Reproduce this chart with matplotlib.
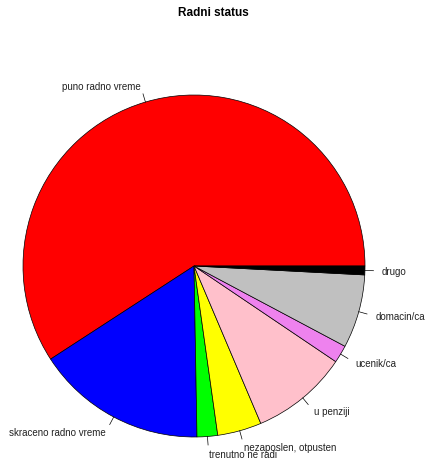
import numpy as np
import matplotlib.pyplot as plt

# radni status - pie like R's pie()
labels = ['puno radno vreme', 'skraceno radno vreme', 'trenutno ne radi',
          'nezaposlen, otpusten', 'u penziji', 'ucenik/ca', 'domacin/ca', 'drugo']
counts = [213, 58, 7, 15, 33, 6, 25, 3]
colors = ['red', 'blue', 'lime', 'yellow', 'pink', 'violet', 'silver', 'black']

plt.rcParams['font.family'] = ['Liberation Sans', 'DejaVu Sans']

W, H = 426, 460
fig = plt.figure(figsize=(W / 100, H / 100), dpi=100)
ax = fig.add_axes([0, 0, 1, 1])

cx, cy, r = 194, H - 267, 171
wedges, texts = ax.pie(counts, labels=labels, colors=colors, startangle=0,
                       counterclock=True, center=(cx, cy), radius=r,
                       labeldistance=1.1, frame=True,
                       wedgeprops=dict(edgecolor='black', linewidth=0.5),
                       textprops=dict(fontsize=7, color='#222222'))
ax.set_xlim(0, W)
ax.set_ylim(0, H)
ax.set_aspect('equal')
ax.axis('off')

# small tick lines from the rim + R-style label alignment
for w, t in zip(wedges, texts):
    a = np.deg2rad((w.theta1 + w.theta2) / 2)
    ax.plot([cx + r * np.cos(a), cx + 1.05 * r * np.cos(a)],
            [cy + r * np.sin(a), cy + 1.05 * r * np.sin(a)],
            color='black', linewidth=0.5)
    t.set_horizontalalignment('left' if np.cos(a) > 0 else 'right')
    t.set_verticalalignment('center')

fig.text(0.5, 1 - 13 / H, 'Radni status', ha='center', va='center',
         fontsize=8.5, fontweight='bold')

fig.savefig('out.png', dpi=100)
